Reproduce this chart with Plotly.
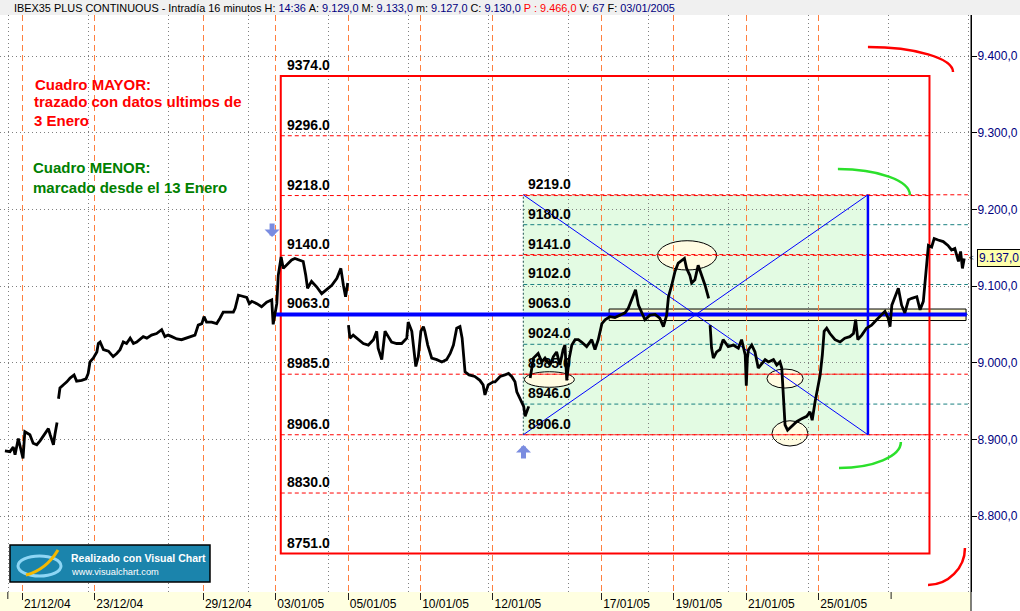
import plotly.graph_objects as go

# ------------------------------------------------------------------ data
# x = trading-session index (0 = 21/12/04, one unit per session), y = price (16-min bars)
price_day = [
    -0.48, -0.34, -0.25, -0.20, -0.11, -0.02, 0.02, 0.07, 0.21, 0.30, 0.40, 0.49, 0.58, 0.72, 0.77, 0.86, 0.90, 0.96, None,
    1.00, 1.04, 1.13, 1.23, 1.32, 1.43, 1.50, 1.64, 1.76, 1.82, 1.87, 1.96, 2.06, 2.10, 2.15, 2.24, 2.38, 2.51, 2.61, 2.70,
    2.79, 2.88, 2.98, 3.07, 3.16, 3.25, 3.34, 3.44, 3.57, 3.71, 3.85, 3.94, 4.03, 4.13, 4.27, 4.40, 4.54, 4.68, 4.77, 4.86,
    4.96, 5.02, 5.09, 5.23, 5.37, 5.46, 5.55, 5.69, 5.83, 5.88, 5.94, 5.97, 6.06, 6.20, 6.27, 6.34, 6.48, 6.61, 6.75, 6.89,
    6.93, 7.03, 7.07, 7.15, 7.21, 7.30, 7.44, 7.53, 7.67, 7.76, 7.83, 7.88, 7.99, 8.13, 8.27, 8.41, 8.55, 8.69, 8.80, 8.87,
    8.93, 8.99, None,
    9.01, 9.05, 9.14, 9.28, 9.42, 9.56, 9.70, 9.79, 9.83, 9.93, 10.02, 10.11, 10.20, 10.34, 10.48, 10.62, 10.66, 10.76,
    10.80, 10.87, 10.94, 11.01, 11.08, 11.12, 11.20, 11.31, 11.45, 11.59, 11.72, 11.82, 11.91, 12.00, 12.09, 12.15, 12.23,
    12.34, 12.50, 12.64, 12.73, 12.78, 12.87, 13.01, 13.06, 13.20, 13.33, 13.43, 13.52, 13.61, 13.66, 13.75, 13.85, 13.89,
    13.94, 13.99, None,
    14.03, 14.12, 14.25, 14.35, 14.44, 14.58, 14.67, 14.76, 14.85, 14.94, 14.99, 15.04, 15.11, 15.18, 15.27, 15.36, 15.45,
    15.59, 15.73, 15.82, 15.91, 16.01, 16.10, 16.23, 16.37, 16.51, 16.65, 16.74, 16.83, 16.94, 17.02, 17.11, 17.20, 17.34,
    17.48, 17.61, 17.71, 17.80, 17.85, 17.94, 18.03, 18.12, 18.22, 18.29, 18.35, 18.44, 18.49, 18.58, 18.67, 18.77, 18.86,
    18.96, None,
    19.00, 19.04, 19.09, 19.18, 19.27, 19.36, 19.50, 19.64, 19.78, 19.87, 19.97, 20.00, 20.03, 20.06, 20.15, 20.24, 20.33,
    20.43, 20.52, 20.61, 20.75, 20.84, 20.93, 20.98, 21.00, 21.04, 21.07, 21.14, 21.25, 21.39, 21.53, 21.67, 21.76, 21.82,
    21.90, 21.97, 22.04, 22.10, 22.15, 22.22, 22.31, 22.45, 22.59, 22.72, 22.86, 22.96, 23.02, 23.08, 23.19, 23.32, 23.46,
    23.60, 23.74, 23.83, 23.92, 23.97, 24.02, 24.11, 24.20, 24.29, 24.38, 24.48, 24.57, 24.71, 24.80, 24.89, 24.96, 25.03,
    25.12, 25.19, 25.30, 25.44, 25.57, 25.67, 25.76, 25.86, 25.92, 25.97, 26.02,
]
price_close = [
    8885, 8884, 8890, 8880, 8901, 8884, 8875, 8910, 8906, 8895, 8893, 8898, 8904, 8914, 8906, 8893, 8906, 8922, None,
    8953, 8967, 8971, 8975, 8980, 8984, 8976, 8977, 8979, 8986, 9001, 9006, 9014, 9025, 9027, 9017, 9015, 9008, 9012, 9017,
    9027, 9025, 9032, 9025, 9027, 9030, 9034, 9032, 9036, 9038, 9043, 9034, 9036, 9034, 9031, 9030, 9032, 9034, 9036, 9049,
    9051, 9060, 9053, 9053, 9051, 9058, 9066, 9066, 9066, 9071, 9082, 9088, 9087, 9085, 9077, 9080, 9077, 9073, 9079, 9082,
    9050, 9077, 9114, 9138, 9123, 9127, 9134, 9136, 9134, 9132, 9114, 9097, 9106, 9099, 9090, 9095, 9101, 9110, 9123, 9101,
    9086, 9104, None,
    9049, 9032, 9036, 9030, 9025, 9023, 9030, 9041, 9019, 9004, 9041, 9034, 9027, 9025, 9025, 9032, 9053, 9041,
    9023, 8995, 9008, 9041, 9047, 9041, 9023, 9006, 9004, 9001, 9004, 9012, 9023, 9045, 9047, 9032, 8988,
    8984, 8982, 8977, 8971, 8958, 8971, 8975, 8975, 8982, 8984, 8986, 8982, 8975, 8962, 8953, 8943, 8930,
    8936, 8943, None,
    8980, 9006, 9012, 9001, 9006, 8997, 9008, 9014, 8997, 9017, 9023, 8977, 9006, 9023, 9030, 9030, 9027,
    9021, 9030, 9017, 9030, 9051, 9056, 9060, 9059, 9062, 9065, 9071, 9082, 9095, 9075, 9065, 9056, 9062,
    9063, 9058, 9047, 9062, 9086, 9101, 9119, 9130, 9134, 9136, 9123, 9114, 9104, 9108, 9127, 9114, 9101,
    9084, None,
    9049, 9019, 9006, 9014, 9017, 9030, 9021, 9023, 9019, 9030, 9010, 8970, 9006, 9017, 9023, 9014, 8993,
    8999, 9004, 9001, 9004, 8997, 9001, 8993, 8975, 8949, 8919, 8912, 8917, 8923, 8927, 8930, 8936, 8925,
    8949, 8966, 8984, 9010, 9041, 9045, 9038, 9030, 9027, 9032, 9034, 9038, 9056, 9030, 9036, 9045, 9049,
    9056, 9062, 9067, 9058, 9047, 9075, 9086, 9097, 9075, 9065, 9082, 9084, 9086, 9069, 9080, 9114, 9153,
    9151, 9162, 9160, 9158, 9153, 9147, 9149, 9132, 9145, 9123, 9136,
]

date_tick_days = [0, 2, 5, 7, 9, 11, 13, 16, 18, 20, 22]
date_tick_labels = ["21/12/04", "23/12/04", "29/12/04", "03/01/05", "05/01/05", "10/01/05",
                    "12/01/05", "17/01/05", "19/01/05", "21/01/05", "25/01/05"]
unlabeled_tick_days = [-0.4, 24]
price_ticks = [8800, 8900, 9000, 9100, 9200, 9300, 9400]

big_box_levels = [9374.0, 9296.0, 9218.0, 9140.0, 9063.0, 8985.0, 8906.0, 8830.0, 8751.0]
big_box_days = [7.14, 25.06]
small_box_levels = [9219.0, 9180.0, 9141.0, 9102.0, 9063.0, 9024.0, 8985.0, 8946.0, 8906.0]
small_box_days = [13.84, 23.36]
support_level = 9063.0
support_days = [7.01, 26.09]
support_band = [9055.0, 9070.0]
support_band_days = [16.21, 26.07]
last_price = 9137.0

# highlighted zones (x0, x1, y0, y1)
ellipses = [
    (17.55, 19.18, 9120.9, 9159.1),
    (13.87, 15.25, 8967.9, 8988.2),
    (20.57, 21.57, 8966.9, 8991.7),
    (20.71, 21.70, 8891.3, 8924.3),
]
arrow_down = (6.90, 9164.0)
arrow_up = (13.845, 8892.6)

title_parts = [("IBEX35 PLUS CONTINUOUS - Intradía 16 minutos H: ", "black"), ("14:36", "#000080"),
               (" A: ", "black"), ("9.129,0", "#000080"), (" M: ", "black"), ("9.133,0", "#000080"),
               (" m: ", "black"), ("9.127,0", "#000080"), (" C: ", "black"), ("9.130,0", "#000080"),
               (" P : 9.466,0", "red"), (" V: ", "black"), ("67", "#000080"), (" F: ", "black"),
               ("03/01/2005", "#000080")]

# ------------------------------------------------------------------ geometry helpers (decoration only)
W, H = 1020, 611
ML, MR, MT, MB = 0, 49, 15, 19
PW, PH = W - ML - MR, H - MT - MB


def xp(px):
    return (px - ML) / PW


def yp(py):
    return (H - MB - py) / PH


FONT = "Liberation Sans, Arial, sans-serif"
RED = "#FF0000"
TEAL = "#1A8080"
BLUE = "#0000FF"

fig = go.Figure()
fig.add_trace(go.Scatter(x=price_day, y=price_close, mode="lines", connectgaps=False,
                         line=dict(color="black", width=2.8), hoverinfo="skip", showlegend=False))

shapes = []
# green "Cuadro MENOR" fill (below grid)
shapes.append(dict(type="rect", xref="x", yref="y", x0=small_box_days[0], x1=small_box_days[1],
                   y0=min(small_box_levels), y1=max(small_box_levels), fillcolor="#E3FBE3",
                   line=dict(width=0), layer="below"))
# support band
shapes.append(dict(type="rect", xref="x", yref="y", x0=support_band_days[0], x1=support_band_days[1],
                   y0=support_band[0], y1=support_band[1], fillcolor="#FFFAC8",
                   line=dict(color="black", width=1), layer="below"))
for (x0, x1, y0, y1) in ellipses:
    shapes.append(dict(type="circle", xref="x", yref="y", x0=x0, x1=x1, y0=y0, y1=y1,
                       fillcolor="#FFFCE2", line=dict(color="black", width=1), layer="below"))

# small box horizontal levels (extend to right edge)
small_colors = [RED, TEAL, RED, TEAL, TEAL, TEAL, RED, TEAL, RED]
for lvl, col in zip(small_box_levels, small_colors):
    shapes.append(dict(type="line", xref="x", yref="y", x0=small_box_days[0], x1=26.12, y0=lvl, y1=lvl,
                       line=dict(color=col, width=1, dash="4px,3px"), layer="between"))
# big box inner levels
for lvl in big_box_levels[1:-1]:
    shapes.append(dict(type="line", xref="x", yref="y", x0=big_box_days[0], x1=big_box_days[1], y0=lvl, y1=lvl,
                       line=dict(color=RED, width=1, dash="4px,3px"), layer="between"))
# big box outline
shapes.append(dict(type="rect", xref="x", yref="y", x0=big_box_days[0], x1=big_box_days[1],
                   y0=min(big_box_levels), y1=max(big_box_levels), line=dict(color=RED, width=2),
                   fillcolor="rgba(0,0,0,0)", layer="between"))
# small box edges & diagonals
shapes.append(dict(type="line", xref="x", yref="y", x0=small_box_days[0], x1=small_box_days[0],
                   y0=min(small_box_levels), y1=max(small_box_levels),
                   line=dict(color="#205050", width=1, dash="2px,2px"), layer="between"))
shapes.append(dict(type="line", xref="x", yref="y", x0=small_box_days[1], x1=small_box_days[1],
                   y0=min(small_box_levels), y1=max(small_box_levels), line=dict(color=BLUE, width=2.5),
                   layer="between"))
shapes.append(dict(type="line", xref="x", yref="y", x0=small_box_days[0], x1=small_box_days[1],
                   y0=max(small_box_levels), y1=min(small_box_levels), line=dict(color=BLUE, width=1),
                   layer="between"))
shapes.append(dict(type="line", xref="x", yref="y", x0=small_box_days[0], x1=small_box_days[1],
                   y0=min(small_box_levels), y1=max(small_box_levels), line=dict(color=BLUE, width=1),
                   layer="between"))
# thick blue support line
shapes.append(dict(type="line", xref="x", yref="y", x0=support_days[0], x1=support_days[1],
                   y0=support_level, y1=support_level, line=dict(color=BLUE, width=4), layer="between"))
# arcs
arcs = [
    ("M 23.36,9411.7 C 24.66,9411.7 25.71,9397.1 25.71,9379.1", RED),
    ("M 25.02,8710 C 25.58,8710 26.04,8732.3 26.04,8758.3", RED),
    ("M 22.53,9252.6 C 23.63,9252.6 24.52,9237.5 24.52,9218.7", "#2BE02B"),
    ("M 22.56,8862.6 C 23.51,8862.6 24.27,8877.8 24.27,8896.5", "#2BE02B"),
]
for path, col in arcs:
    shapes.append(dict(type="path", xref="x", yref="y", path=path, line=dict(color=col, width=2.5),
                       layer="above"))
# unlabeled axis ticks
for d in unlabeled_tick_days:
    shapes.append(dict(type="line", xref="x", yref="paper", x0=d, x1=d, y0=0, y1=yp(599),
                       line=dict(color="#202020", width=1), layer="above"))
# bottom band & title bar
shapes.append(dict(type="rect", xref="paper", yref="paper", x0=0, x1=1, y0=yp(H), y1=0,
                   fillcolor="#FFFFE1", line=dict(width=0), layer="below"))
shapes.append(dict(type="rect", xref="paper", yref="paper", x0=0, x1=xp(W), y0=1, y1=yp(0),
                   fillcolor="#F0F0F0", line=dict(width=0), layer="below"))
shapes.append(dict(type="line", xref="paper", yref="paper", x0=1, x1=1, y0=yp(H), y1=1,
                   line=dict(color="black", width=1), layer="above"))
# logo
shapes.append(dict(type="rect", xref="paper", yref="paper", x0=xp(10), x1=xp(210), y0=yp(582), y1=yp(545),
                   fillcolor="#1B84AC", line=dict(color="black", width=1.5), layer="above"))
shapes.append(dict(type="circle", xref="paper", yref="paper", x0=xp(18), x1=xp(61), y0=yp(576), y1=yp(556),
                   line=dict(color="#8ED6F5", width=3), layer="above"))
shapes.append(dict(type="path", xref="paper", yref="paper",
                   path=f"M {xp(26)},{yp(575)} Q {xp(46)},{yp(570)} {xp(58)},{yp(550)}",
                   line=dict(color="#F5B800", width=3), layer="above"))

annotations = []
# title
title_html = "".join(f'<span style="color:{c}">{t.replace(" ", "&nbsp;")}</span>' for t, c in title_parts)
annotations.append(dict(xref="paper", yref="paper", x=xp(12), y=yp(7.5), xanchor="left", yanchor="middle",
                        text=title_html, showarrow=False, font=dict(family=FONT, size=10.9, color="black")))
# box labels
for lvl in big_box_levels:
    annotations.append(dict(xref="x", yref="y", x=big_box_days[0] + 0.11, y=lvl, xanchor="left",
                            yanchor="bottom", yshift=1, text=f"{lvl:.1f}", showarrow=False,
                            font=dict(family=FONT, size=14, color="black", weight="bold")))
for lvl in small_box_levels:
    annotations.append(dict(xref="x", yref="y", x=small_box_days[0] + 0.08, y=lvl, xanchor="left",
                            yanchor="bottom", yshift=1, text=f"{lvl:.1f}", showarrow=False,
                            font=dict(family=FONT, size=14, color="black", weight="bold")))
# notes
notes = [("Cuadro MAYOR:", 33, 84, "#FF0000"), ("trazado con datos ultimos de", 32, 102, "#FF0000"),
         ("3 Enero", 32, 120, "#FF0000"), ("Cuadro MENOR:", 31, 167.5, "#008000"),
         ("marcado desde el 13 Enero", 31, 187.5, "#008000")]
for txt, x, y, c in notes:
    annotations.append(dict(xref="paper", yref="paper", x=xp(x), y=yp(y), xanchor="left", yanchor="middle",
                            text=txt, showarrow=False, font=dict(family=FONT, size=15, color=c, weight="bold")))
# arrows
arrow_col = "#7A8CE0"
annotations.append(dict(xref="x", yref="y", x=arrow_down[0], y=arrow_down[1], ax=0, ay=-15, text="",
                        showarrow=True, arrowhead=1, arrowsize=0.5, arrowwidth=5, arrowcolor=arrow_col))
annotations.append(dict(xref="x", yref="y", x=arrow_up[0], y=arrow_up[1], ax=0, ay=15, text="",
                        showarrow=True, arrowhead=1, arrowsize=0.5, arrowwidth=5, arrowcolor=arrow_col))
# last price tag
annotations.append(dict(xref="paper", yref="y", x=xp(977), y=last_price, xanchor="left", yanchor="middle",
                        text=f"{last_price:,.1f}".replace(",", "X").replace(".", ",").replace("X", "."),
                        showarrow=False, bgcolor="#FFFFAA", bordercolor="black", borderwidth=1, borderpad=1,
                        font=dict(family=FONT, size=12, color="#000080")))
annotations.append(dict(xref="paper", yref="y", x=xp(976), y=last_price, xanchor="right", yanchor="middle",
                        text="&lt;", showarrow=False, font=dict(family=FONT, size=8, color="black")))
# logo text
annotations.append(dict(xref="paper", yref="paper", x=xp(69), y=yp(558), xanchor="left", yanchor="middle",
                        text="Realizado con Visual Chart", showarrow=False,
                        font=dict(family=FONT, size=10.5, color="white", weight="bold")))
annotations.append(dict(xref="paper", yref="paper", x=xp(69), y=yp(571.5), xanchor="left", yanchor="middle",
                        text="www.visualchart.com", showarrow=False,
                        font=dict(family=FONT, size=9.3, color="white")))

fig.update_layout(
    width=W, height=H,
    margin=dict(l=ML, r=MR, t=MT, b=MB, pad=0),
    plot_bgcolor="white", paper_bgcolor="white",
    separators=",.",
    showlegend=False,
    font=dict(family=FONT, size=12, color="black"),
    xaxis=dict(range=[-0.616, 26.207], tickmode="array", tickvals=date_tick_days, ticktext=date_tick_labels,
               ticks="outside", ticklen=7, tickcolor="#202020", tickwidth=1, ticklabelshift=25,
               ticklabelstandoff=-6, tickfont=dict(family=FONT, size=12, color="black"),
               showgrid=True, gridcolor="#FF7F3F", griddash="6px,4px", gridwidth=1,
               zeroline=False, showline=False, automargin=False, fixedrange=True,
               minor=dict(tickmode="linear", tick0=-0.395, dtick=2.21, showgrid=True, gridcolor="#808080",
                          griddash="1px,3px", gridwidth=1, ticks="")),
    yaxis=dict(side="right", range=[8700.9, 9453.5], tickmode="array", tickvals=price_ticks,
               tickformat=",.1f", ticks="outside", ticklen=5, tickcolor="black", ticklabelstandoff=-2,
               tickfont=dict(family=FONT, size=12, color="#000080"),
               showgrid=True, gridcolor="#808080", griddash="1px,3px", gridwidth=1,
               zeroline=False, showline=True, linecolor="black", linewidth=1, automargin=False,
               fixedrange=True),
    shapes=shapes,
    annotations=annotations,
)

fig.write_html("out.html", config={"displayModeBar": False},
               post_script="document.body.style.margin='0';document.body.style.overflow='hidden';")
